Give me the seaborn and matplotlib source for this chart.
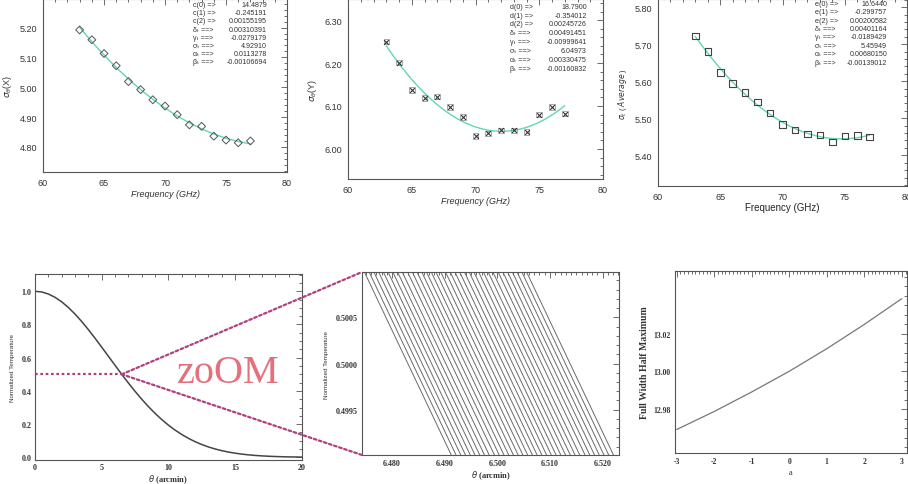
import numpy as np
import pandas as pd
import matplotlib
matplotlib.use("Agg")
import matplotlib.pyplot as plt
from matplotlib.patches import ConnectionPatch
from matplotlib.ticker import MultipleLocator, FormatStrFormatter, FixedLocator
import seaborn as sns

# ---------------- data ----------------
freq = [63, 64, 65, 66, 67, 68, 69, 70, 71, 72, 73, 74, 75, 76, 77]
sigma_x = [5.192, 5.159, 5.113, 5.072, 5.019, 4.992, 4.958, 4.937, 4.908,
           4.874, 4.869, 4.836, 4.823, 4.814, 4.820]
sigma_y = [6.250, 6.201, 6.137, 6.119, 6.122, 6.097, 6.074, 6.030, 6.036,
           6.043, 6.043, 6.039, 6.080, 6.097, 6.082]
sigma_avg = [5.722, 5.680, 5.624, 5.594, 5.569, 5.544, 5.514, 5.483, 5.469,
             5.457, 5.455, 5.436, 5.452, 5.454, 5.449]

coef_labels_x = ["c(0) =>", "c(1) =>", "c(2) =>", "δₜ ==>", "γₜ ==>",
                 "σₜ ==>", "αₜ ==>", "βₜ ==>"]
coef_values_x = ["14.4879", "-0.245191", "0.00155195", "0.00310391", "-0.0279179",
                 "4.92910", "0.0113278", "-0.00106694"]
coef_labels_y = ["d(0) =>", "d(1) =>", "d(2) =>", "δₜ ==>", "γₜ ==>",
                 "σₜ ==>", "αₜ ==>", "βₜ ==>"]
coef_values_y = ["18.7900", "-0.354012", "0.00245726", "0.00491451", "-0.00999641",
                 "6.04973", "0.00330475", "-0.00160832"]
coef_labels_avg = ["e(0) =>", "e(1) =>", "e(2) =>", "δₜ ==>", "γₜ ==>",
                   "σₜ ==>", "αₜ ==>", "βₜ ==>"]
coef_values_avg = ["16.6440", "-0.299757", "0.00200582", "0.00401164", "-0.0189429",
                   "5.45949", "0.00680150", "-0.00139012"]

theta = [0, 0.5, 1, 1.5, 2, 2.5, 3, 3.5, 4, 4.5, 5, 5.5, 6, 6.5, 7, 7.5, 8, 8.5,
         9, 9.5, 10, 10.5, 11, 11.5, 12, 12.5, 13, 13.5, 14, 14.5, 15, 15.5, 16,
         16.5, 17, 17.5, 18, 18.5, 19, 19.5, 20]
norm_temp = [1.0000, 0.9959, 0.9837, 0.9638, 0.9365, 0.9025, 0.8627, 0.8179,
             0.7691, 0.7173, 0.6636, 0.6088, 0.5540, 0.5000, 0.4476, 0.3974,
             0.3499, 0.3057, 0.2648, 0.2275, 0.1938, 0.1639, 0.1374, 0.1142,
             0.0942, 0.0770, 0.0625, 0.0503, 0.0401, 0.0318, 0.0249, 0.0194,
             0.0150, 0.0115, 0.0087, 0.0066, 0.0049, 0.0036, 0.0027, 0.0020,
             0.0014]
half_point = [6.5, 0.5]

# half-power crossings of the zoomed family of curves
zoom_cross = [6.4830, 6.4839, 6.4848, 6.4857, 6.4866, 6.4875, 6.4884, 6.4893,
              6.4902, 6.4912, 6.4921, 6.4930, 6.4939, 6.4948, 6.4957, 6.4966,
              6.4975, 6.4984, 6.4993, 6.5002, 6.5011, 6.5020, 6.5029, 6.5038,
              6.5047, 6.5056, 6.5065, 6.5074, 6.5084, 6.5093, 6.5102, 6.5111,
              6.5120, 6.5129, 6.5138]
zoom_dtheta = 0.0100   # theta offset per zoom_dT drop
zoom_dT = 0.0012

a_vals = [-3, -2, -1, 0, 1, 2, 3]
fwhm = [12.9694, 12.9789, 12.9892, 13.0001, 13.0120, 13.0248, 13.0384]
fwhm_ticks = [12.98, 13.00, 13.02]

# ---------------- style ----------------
sns.set_style("white")
plt.rcParams["font.family"] = ["Liberation Sans", "DejaVu Sans"]
plt.rcParams["axes.unicode_minus"] = False
plt.rcParams["mathtext.fontset"] = "dejavusans"

FIT = "#62d6b6"
EDGE = "#555555"
DOT = "#b0407e"
SERIF = ["Liberation Serif", "DejaVu Serif"]

fig = plt.figure(figsize=(9.08, 4.85), dpi=100)
fig.patch.set_facecolor("white")


def style_axes(ax, xmaj, xmin, ymaj, ymin, xfmt, yfmt, serif=False, size=6.5, pad=4):
    for s in ax.spines.values():
        s.set_color(EDGE)
        s.set_linewidth(0.8)
    ax.xaxis.set_major_locator(MultipleLocator(xmaj))
    ax.xaxis.set_minor_locator(MultipleLocator(xmin))
    if ymaj is not None:
        ax.yaxis.set_major_locator(MultipleLocator(ymaj))
    ax.yaxis.set_minor_locator(MultipleLocator(ymin))
    ax.xaxis.set_major_formatter(FormatStrFormatter(xfmt))
    ax.yaxis.set_major_formatter(FormatStrFormatter(yfmt))
    ax.tick_params(which="both", direction="in", top=True, right=True,
                   color=EDGE, width=0.6, labelsize=size, labelcolor="#333333", pad=pad)
    ax.tick_params(which="major", length=4)
    ax.tick_params(which="minor", length=2)
    if serif:
        for lab in ax.get_xticklabels() + ax.get_yticklabels():
            lab.set_family(SERIF)
            lab.set_weight("bold")


def coef_block(ax, labels, values, x0, x1, y0, dy):
    for i, (l, v) in enumerate(zip(labels, values)):
        ax.text(x0, y0 - i * dy, l, transform=ax.transAxes, fontsize=5.1,
                ha="left", va="center", color="#333333",
                family=["Liberation Sans", "DejaVu Sans"])
        ax.text(x1, y0 - i * dy, v, transform=ax.transAxes, fontsize=5.1,
                ha="right", va="center", color="#333333")


# ---------- panel 1 ----------
ax1 = fig.add_axes([0.0474, 0.6433, 0.2687, 0.3557])
sns.regplot(x=freq, y=sigma_x, order=2, ci=None, scatter=False, truncate=True,
            line_kws=dict(color=FIT, lw=1.0), ax=ax1)
ax1.scatter(freq, sigma_x, marker="D", s=16, facecolors="none",
            edgecolors="#555555", linewidths=0.7, zorder=3)
ax1.set_xlim(60, 80)
ax1.set_ylim(4.716, 5.294)
style_axes(ax1, 5, 1, 0.1, 0.02, "%d", "%.2f")
ax1.set_xlabel("Frequency (GHz)", fontsize=6.5, style="italic", labelpad=2, color="#333333")
ax1.set_ylabel(r"$\sigma_\theta$(X)", fontsize=6.5, labelpad=4, color="#333333")
coef_block(ax1, coef_labels_x, coef_values_x, 0.615, 0.918, 0.971, 0.0474)

# ---------- panel 2 ----------
ax2 = fig.add_axes([0.3833, 0.6289, 0.2808, 0.3701])
sns.regplot(x=freq, y=sigma_y, order=2, ci=None, scatter=False, truncate=True,
            line_kws=dict(color=FIT, lw=1.0), ax=ax2)
ax2.scatter(freq, sigma_y, marker="s", s=16, facecolors="none",
            edgecolors="#888888", linewidths=0.5, zorder=3)
ax2.scatter(freq, sigma_y, marker="x", s=12, color="#333333", linewidths=0.8, zorder=4)
ax2.set_xlim(60, 80)
ax2.set_ylim(5.930, 6.348)
style_axes(ax2, 5, 1, 0.1, 0.02, "%d", "%.2f")
ax2.set_xlabel("Frequency (GHz)", fontsize=6.5, style="italic", labelpad=2, color="#333333")
ax2.set_ylabel(r"$\sigma_\theta$(Y)", fontsize=6.5, labelpad=4, color="#333333")
coef_block(ax2, coef_labels_y, coef_values_y, 0.635, 0.937, 0.963, 0.0495)

# ---------- panel 3 ----------
ax3 = fig.add_axes([0.7247, 0.6144, 0.2743, 0.3846])
sns.regplot(x=freq, y=sigma_avg, order=2, ci=None, scatter=False, truncate=True,
            line_kws=dict(color=FIT, lw=1.0), ax=ax3)
ax3.scatter(freq, sigma_avg, marker="s", s=22, facecolors="none",
            edgecolors="#444444", linewidths=0.8, zorder=3)
ax3.set_xlim(60, 80)
ax3.set_ylim(5.317, 5.821)
style_axes(ax3, 5, 1, 0.1, 0.02, "%d", "%.2f")
ax3.set_xlabel("Frequency (GHz)", fontsize=7, labelpad=1, color="#222222")
ax3.set_ylabel(r"$\sigma_t$ ( $Average$ )", fontsize=5.5, labelpad=4, color="#333333")
coef_block(ax3, coef_labels_avg, coef_values_avg, 0.632, 0.92, 0.979, 0.0449)

# ---------- panel 4 ----------
ax4 = fig.add_axes([0.0385, 0.0495, 0.2940, 0.3835])
sns.lineplot(x=theta, y=norm_temp, color="#444444", lw=1.1, ax=ax4)
ax4.plot([0, half_point[0]], [half_point[1], half_point[1]], ls=(0, (1.2, 1.2)),
         color=DOT, lw=1.6)
ax4.set_xlim(0, 20)
ax4.set_ylim(-0.016, 1.104)
style_axes(ax4, 5, 1, 0.2, 0.05, "%d", "%.1f", serif=True, size=5.8, pad=2.5)
ax4.set_xlabel(r"$\theta$ (arcmin)", fontsize=6, labelpad=0.5, color="#333333",
               family=SERIF, weight="bold")
ax4.set_ylabel("Normalized Temperature", fontsize=4.5, labelpad=5, color="#333333")
ax4.text(10.6, 0.452, "zoOM", fontsize=29, color="#e5707c",
         family=SERIF, ha="left", va="baseline")

# ---------- panel 5 ----------
ax5 = fig.add_axes([0.3987, 0.0598, 0.2830, 0.3773])
rows = []
for i, c in enumerate(zoom_cross):
    rows.append({"theta": c - zoom_dtheta, "T": 0.5 + zoom_dT, "line": i})
    rows.append({"theta": c + zoom_dtheta, "T": 0.5 - zoom_dT, "line": i})
zdf = pd.DataFrame(rows)
sns.lineplot(data=zdf, x="theta", y="T", units="line", estimator=None, sort=False,
             color="#6a6a6a", lw=0.7, ax=ax5)
ax5.set_xlim(6.4743, 6.5231)
ax5.set_ylim(0.49901, 0.50099)
style_axes(ax5, 0.01, 0.001, 0.0005, 0.0001, "%.3f", "%.4f", serif=True, size=5.8, pad=3)
ax5.set_xlabel(r"$\theta$ (arcmin)", fontsize=6, labelpad=1, color="#333333",
               family=SERIF, weight="bold")
ax5.set_ylabel("Normalized Temperature", fontsize=4.5, labelpad=5, color="#333333")

# zoom connector lines
for corner in [(0, 1), (0, 0)]:
    con = ConnectionPatch(xyA=tuple(half_point), coordsA=ax4.transData,
                          xyB=corner, coordsB=ax5.transAxes,
                          color=DOT, lw=1.6, ls=(0, (1.2, 1.2)))
    fig.add_artist(con)

# ---------- panel 6 ----------
ax6 = fig.add_axes([0.7434, 0.0639, 0.2555, 0.3753])
sns.lineplot(x=a_vals, y=fwhm, color="#777777", lw=0.9, ax=ax6)
ax6.set_xlim(-3.045, 3.14)
ax6.set_ylim(12.957, 13.053)
ax6.yaxis.set_major_locator(FixedLocator(fwhm_ticks))
style_axes(ax6, 1, 0.1, None, 0.005, "%d", "%.2f", serif=True, size=5.5, pad=3)
ax6.set_xlabel("a", fontsize=6, labelpad=2, color="#333333", family=SERIF)
ax6.set_ylabel("Full Width Half Maximum", fontsize=7, labelpad=3, color="#333333",
               family=SERIF, weight="bold")

fig.savefig("out.png", dpi=100, facecolor="white")
